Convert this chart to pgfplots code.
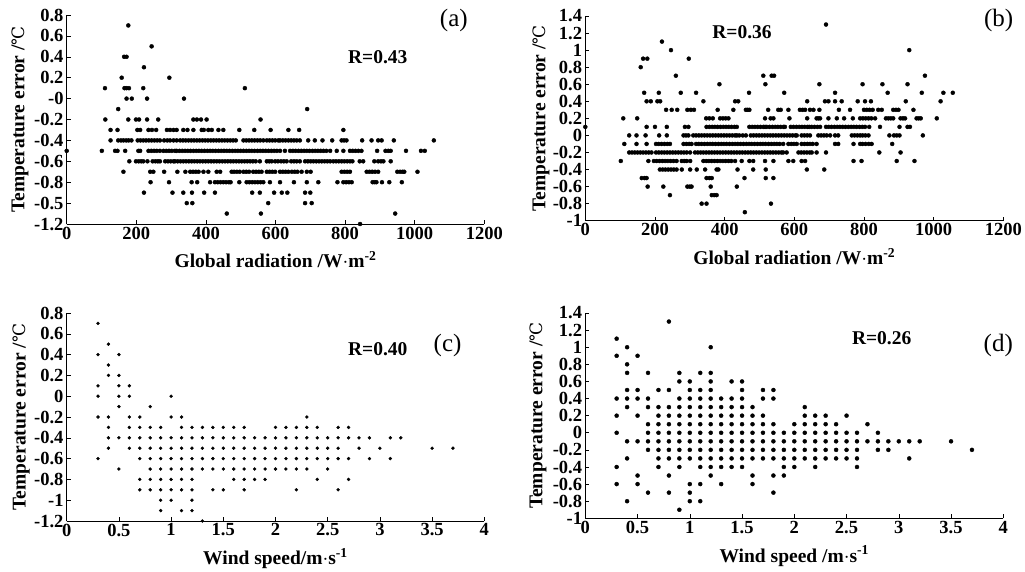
\documentclass[border=0pt]{standalone}
\usepackage{pgfplots}
\pgfplotsset{compat=1.18}
\usepackage{fontspec}
\setmainfont{Liberation Serif}
\newfontfamily\degfont{DejaVu Serif}
\newfontfamily\tickfont{Liberation Serif Bold}
\newcommand{\tfont}{\fontsize{18.5}{20}\selectfont\bfseries}
\newcommand{\lfont}{\fontsize{19.5}{22}\selectfont\bfseries}
\newcommand{\degC}{{\mdseries\degfont\fontsize{17}{20}\selectfont ℃}}
\newcommand{\B}[1]{\textbf{\tickfont\fontsize{18.5}{20}\selectfont #1}}
\pgfplotsset{
 myax/.style={
  scale only axis, clip=false,
  axis lines=left, axis line style={-, line width=0.8pt},
  every outer x axis line/.append style={-}, every outer y axis line/.append style={-},
  tick align=inside, major tick length=4pt, tick style={line width=0.6pt, black},
  xticklabel style={font=\tfont, inner sep=2.5pt},
  yticklabel style={font=\tfont, inner sep=3pt},
  label style={font=\lfont},
 },
 radx/.style={xmin=0, xmax=1200, xtick={0,200,400,600,800,1000,1200},
  xticklabels={\B{0},\B{200},\B{400},\B{600},\B{800},\B{1000},\B{1200}}},
 windx/.style={xmin=0, xmax=4, xtick={0,0.5,1,1.5,2,2.5,3,3.5,4},
  xticklabels={\B{0},\B{0.5},\B{1},\B{1.5},\B{2},\B{2.5},\B{3},\B{3.5},\B{4}}},
 ya/.style={ymin=-1.2, ymax=0.8, ytick={-1.2,-1,-0.8,-0.6,-0.4,-0.2,0,0.2,0.4,0.6,0.8}},
 yb/.style={ymin=-1, ymax=1.4, ytick={-1,-0.8,-0.6,-0.4,-0.2,0,0.2,0.4,0.6,0.8,1,1.2,1.4},
  yticklabels={\B{-1},\B{-0.8},\B{-0.6},\B{-0.4},\B{-0.2},\B{0},\B{0.2},\B{0.4},\B{0.6},\B{0.8},\B{1},\B{1.2},\B{1.4}}},
 pts/.style={only marks, mark=*, mark size=2pt, mark options={fill=black, draw=none}},
}
\begin{document}
\begin{tikzpicture}
\useasboundingbox (0,0) rectangle (1025pt,-571pt);
% ---------------- (a)
\begin{axis}[myax, radx, ya, at={(66.7pt,-224pt)}, anchor=south west, width=417.6pt, height=209pt,
 yticklabels={\B{-1.2},\B{-0.5},\B{-0.8},\B{-0.6},\B{-0.4},\B{-0.2},\B{-0},\B{0.2},\B{0.4},\B{0.6},\B{0.8}},
 xlabel={Global radiation /W$\cdot$m\textsuperscript{-2}},
 ylabel={Temperature error /\degC},
 xlabel style={at={(axis description cs:0.5,-0.21)}, anchor=base},
 ylabel style={at={(axis description cs:-0.112,0.5)}, anchor=center},
]
\addplot[pts] coordinates {
(177,0.7)(244,0.5)(165,0.4)(172,0.4)(222,0.3)(158,0.2)(295,0.2)
(110,0.1)(166,0.1)(172,0.1)(179,0.1)(220,0.1)(512,0.1)
(172,0)(187,0)(231,0)(337,0)
(148,-0.1)(691,-0.1)
(111,-0.2)(177,-0.2)(199,-0.2)(208,-0.2)(231,-0.2)(263,-0.2)(364,-0.2)(374,-0.2)(386,-0.2)(402,-0.2)(557,-0.2)
(126,-0.3)(146,-0.3)(203,-0.3)(211,-0.3)(235,-0.3)(245,-0.3)(257,-0.3)(288,-0.3)(297,-0.3)(307,-0.3)(316,-0.3)(335,-0.3)(347,-0.3)(364,-0.3)(388,-0.3)(394,-0.3)(407,-0.3)(417,-0.3)(436,-0.3)(450,-0.3)(496,-0.3)(539,-0.3)(586,-0.3)(637,-0.3)(668,-0.3)(795,-0.3)
(126,-0.4)(148,-0.4)(156,-0.4)(163,-0.4)(171,-0.4)(178,-0.4)(186,-0.4)(204,-0.4)(212,-0.4)(220,-0.4)(228,-0.4)(236,-0.4)(244,-0.4)(252,-0.4)(260,-0.4)(268,-0.4)(280,-0.4)(289,-0.4)(297,-0.4)(307,-0.4)(316,-0.4)(326,-0.4)(334,-0.4)(342,-0.4)(350,-0.4)(358,-0.4)(366,-0.4)(374,-0.4)(382,-0.4)(390,-0.4)(398,-0.4)(406,-0.4)(414,-0.4)(422,-0.4)(430,-0.4)(438,-0.4)(446,-0.4)(454,-0.4)(462,-0.4)(470,-0.4)(478,-0.4)(486,-0.4)(508,-0.4)(516,-0.4)(524,-0.4)(532,-0.4)(540,-0.4)(548,-0.4)(556,-0.4)(565,-0.4)(575,-0.4)(583,-0.4)(591,-0.4)(599,-0.4)(608,-0.4)(613,-0.4)(621,-0.4)(629,-0.4)(637,-0.4)(645,-0.4)(653,-0.4)(661,-0.4)(670,-0.4)(694,-0.4)(713,-0.4)(735,-0.4)(763,-0.4)(790,-0.4)(797,-0.4)(804,-0.4)(849,-0.4)(876,-0.4)(895,-0.4)(905,-0.4)(940,-0.4)(1055,-0.4)
(0,-0.5)(101,-0.5)(139,-0.5)(146,-0.5)(168,-0.5)(206,-0.5)(211,-0.5)(235,-0.5)(243,-0.5)(251,-0.5)(259,-0.5)(268,-0.5)(278,-0.5)(286,-0.5)(294,-0.5)(302,-0.5)(311,-0.5)(316,-0.5)(324,-0.5)(332,-0.5)(340,-0.5)(348,-0.5)(356,-0.5)(364,-0.5)(372,-0.5)(380,-0.5)(388,-0.5)(396,-0.5)(404,-0.5)(412,-0.5)(420,-0.5)(428,-0.5)(436,-0.5)(444,-0.5)(452,-0.5)(460,-0.5)(468,-0.5)(476,-0.5)(484,-0.5)(492,-0.5)(500,-0.5)(508,-0.5)(516,-0.5)(524,-0.5)(532,-0.5)(540,-0.5)(548,-0.5)(556,-0.5)(564,-0.5)(572,-0.5)(580,-0.5)(588,-0.5)(596,-0.5)(604,-0.5)(613,-0.5)(627,-0.5)(642,-0.5)(650,-0.5)(658,-0.5)(666,-0.5)(674,-0.5)(682,-0.5)(690,-0.5)(698,-0.5)(706,-0.5)(714,-0.5)(722,-0.5)(730,-0.5)(738,-0.5)(746,-0.5)(757,-0.5)(776,-0.5)(795,-0.5)(814,-0.5)(822,-0.5)(830,-0.5)(838,-0.5)(847,-0.5)(892,-0.5)(916,-0.5)(924,-0.5)(931,-0.5)(975,-0.5)(1018,-0.5)(1029,-0.5)
(180,-0.6)(199,-0.6)(207,-0.6)(214,-0.6)(220,-0.6)(232,-0.6)(247,-0.6)(255,-0.6)(262,-0.6)(268,-0.6)(283,-0.6)(291,-0.6)(299,-0.6)(307,-0.6)(311,-0.6)(319,-0.6)(327,-0.6)(335,-0.6)(343,-0.6)(351,-0.6)(359,-0.6)(367,-0.6)(375,-0.6)(383,-0.6)(391,-0.6)(399,-0.6)(407,-0.6)(415,-0.6)(423,-0.6)(431,-0.6)(439,-0.6)(447,-0.6)(455,-0.6)(463,-0.6)(471,-0.6)(479,-0.6)(487,-0.6)(495,-0.6)(503,-0.6)(511,-0.6)(519,-0.6)(527,-0.6)(535,-0.6)(543,-0.6)(555,-0.6)(575,-0.6)(582,-0.6)(589,-0.6)(599,-0.6)(607,-0.6)(616,-0.6)(624,-0.6)(632,-0.6)(645,-0.6)(653,-0.6)(661,-0.6)(670,-0.6)(685,-0.6)(693,-0.6)(701,-0.6)(709,-0.6)(717,-0.6)(725,-0.6)(733,-0.6)(741,-0.6)(749,-0.6)(757,-0.6)(766,-0.6)(774,-0.6)(782,-0.6)(790,-0.6)(798,-0.6)(806,-0.6)(814,-0.6)(821,-0.6)(842,-0.6)(852,-0.6)(884,-0.6)(895,-0.6)(903,-0.6)(910,-0.6)(931,-0.6)
(163,-0.7)(240,-0.7)(249,-0.7)(280,-0.7)(318,-0.7)(341,-0.7)(355,-0.7)(363,-0.7)(371,-0.7)(379,-0.7)(393,-0.7)(407,-0.7)(431,-0.7)(441,-0.7)(474,-0.7)(481,-0.7)(489,-0.7)(497,-0.7)(508,-0.7)(516,-0.7)(524,-0.7)(536,-0.7)(544,-0.7)(552,-0.7)(560,-0.7)(575,-0.7)(583,-0.7)(591,-0.7)(599,-0.7)(613,-0.7)(621,-0.7)(629,-0.7)(637,-0.7)(647,-0.7)(655,-0.7)(663,-0.7)(675,-0.7)(690,-0.7)(701,-0.7)(790,-0.7)(798,-0.7)(806,-0.7)(814,-0.7)(862,-0.7)(870,-0.7)(878,-0.7)(886,-0.7)(895,-0.7)(950,-0.7)(958,-0.7)(965,-0.7)(970,-0.7)(1008,-0.7)
(241,-0.8)(294,-0.8)(359,-0.8)(375,-0.8)(412,-0.8)(426,-0.8)(434,-0.8)(442,-0.8)(450,-0.8)(458,-0.8)(466,-0.8)(471,-0.8)(496,-0.8)(517,-0.8)(525,-0.8)(533,-0.8)(541,-0.8)(549,-0.8)(557,-0.8)(565,-0.8)(584,-0.8)(613,-0.8)(653,-0.8)(690,-0.8)(723,-0.8)(778,-0.8)(795,-0.8)(803,-0.8)(811,-0.8)(819,-0.8)(879,-0.8)(885,-0.8)(890,-0.8)(906,-0.8)(927,-0.8)(963,-0.8)
(222,-0.9)(304,-0.9)(335,-0.9)(360,-0.9)(395,-0.9)(426,-0.9)(533,-0.9)(555,-0.9)(596,-0.9)(618,-0.9)(634,-0.9)(685,-0.9)(700,-0.9)
(345,-1.0)(361,-1.0)(579,-1.0)(685,-1.0)(704,-1.0)
(460,-1.1)(558,-1.1)(944,-1.1)(843,-1.2)
};
\node[font=\lfont] at (axis description cs:0.745,0.80) {R=0.43};
\node[font=\fontsize{25}{28}\selectfont] at (axis description cs:0.927,0.976) {(a)};
\end{axis}
% ---------------- (b)
\begin{axis}[myax, radx, yb, at={(585.3pt,-220.7pt)}, anchor=south west, width=418pt, height=204.7pt,
 xlabel={Global radiation /W$\cdot$m\textsuperscript{-2}},
 ylabel={Temperature error /\degC},
 xlabel style={at={(axis description cs:0.5,-0.216)}, anchor=base},
 ylabel style={at={(axis description cs:-0.106,0.5)}, anchor=center},
]
\addplot[pts] coordinates {
(691,1.3)(220,1.1)(246,1.0)(930,1.0)(166,0.9)(178,0.9)(297,0.9)(159,0.8)
(260,0.7)(511,0.7)(535,0.7)(542,0.7)(975,0.7)
(385,0.6)(517,0.6)(672,0.6)(796,0.6)(853,0.6)(925,0.6)
(169,0.5)(211,0.5)(274,0.5)(318,0.5)(470,0.5)(571,0.5)(717,0.5)(868,0.5)(966,0.5)(1028,0.5)(1055,0.5)
(176,0.4)(188,0.4)(207,0.4)(215,0.4)(339,0.4)(430,0.4)(439,0.4)(637,0.4)(688,0.4)(698,0.4)(717,0.4)(736,0.4)(782,0.4)(803,0.4)(820,0.4)(920,0.4)(1020,0.4)
(232,0.3)(248,0.3)(264,0.3)(293,0.3)(303,0.3)(312,0.3)(380,0.3)(425,0.3)(461,0.3)(466,0.3)(471,0.3)(525,0.3)(554,0.3)(561,0.3)(583,0.3)(616,0.3)(624,0.3)(631,0.3)(645,0.3)(655,0.3)(672,0.3)(728,0.3)(760,0.3)(800,0.3)(808,0.3)(816,0.3)(825,0.3)(841,0.3)(851,0.3)(884,0.3)(892,0.3)(899,0.3)(942,0.3)
(109,0.2)(149,0.2)(347,0.2)(356,0.2)(366,0.2)(387,0.2)(395,0.2)(403,0.2)(411,0.2)(516,0.2)(532,0.2)(540,0.2)(586,0.2)(637,0.2)(664,0.2)(669,0.2)(674,0.2)(698,0.2)(722,0.2)(743,0.2)(768,0.2)(789,0.2)(797,0.2)(805,0.2)(813,0.2)(821,0.2)(832,0.2)(863,0.2)(870,0.2)(877,0.2)(884,0.2)(905,0.2)(912,0.2)(918,0.2)(951,0.2)(957,0.2)(963,0.2)(1009,0.2)
(0,0.1)(176,0.1)(200,0.1)(234,0.1)(286,0.1)(296,0.1)(348,0.1)(356,0.1)(364,0.1)(372,0.1)(380,0.1)(388,0.1)(396,0.1)(404,0.1)(412,0.1)(420,0.1)(428,0.1)(435,0.1)(471,0.1)(479,0.1)(487,0.1)(495,0.1)(503,0.1)(511,0.1)(516,0.1)(521,0.1)(529,0.1)(537,0.1)(545,0.1)(553,0.1)(561,0.1)(569,0.1)(573,0.1)(590,0.1)(598,0.1)(606,0.1)(614,0.1)(622,0.1)(630,0.1)(638,0.1)(643,0.1)(650,0.1)(658,0.1)(666,0.1)(674,0.1)(691,0.1)(699,0.1)(707,0.1)(715,0.1)(723,0.1)(731,0.1)(739,0.1)(747,0.1)(755,0.1)(763,0.1)(771,0.1)(779,0.1)(787,0.1)(795,0.1)(803,0.1)(815,0.1)(846,0.1)(902,0.1)(925,0.1)(932,0.1)
(126,0)(147,0)(173,0)(212,0)(234,0)(282,0)(289,0)(296,0)(310,0)(318,0)(326,0)(334,0)(342,0)(350,0)(358,0)(366,0)(374,0)(382,0)(390,0)(398,0)(406,0)(414,0)(422,0)(430,0)(435,0)(442,0)(452,0)(461,0)(475,0)(483,0)(491,0)(499,0)(507,0)(515,0)(523,0)(531,0)(539,0)(547,0)(555,0)(563,0)(571,0)(579,0)(587,0)(595,0)(603,0)(607,0)(621,0)(629,0)(637,0)(645,0)(669,0)(677,0)(685,0)(693,0)(703,0)(717,0)(726,0)(765,0)(773,0)(781,0)(789,0)(796,0)(804,0)(813,0)(873,0)(886,0)(894,0)(902,0)(969,0)
(112,-0.1)(147,-0.1)(176,-0.1)(203,-0.1)(211,-0.1)(219,-0.1)(227,-0.1)(235,-0.1)(243,-0.1)(282,-0.1)(290,-0.1)(298,-0.1)(305,-0.1)(318,-0.1)(326,-0.1)(334,-0.1)(342,-0.1)(350,-0.1)(358,-0.1)(366,-0.1)(374,-0.1)(382,-0.1)(390,-0.1)(398,-0.1)(406,-0.1)(414,-0.1)(422,-0.1)(430,-0.1)(438,-0.1)(446,-0.1)(454,-0.1)(462,-0.1)(470,-0.1)(478,-0.1)(486,-0.1)(494,-0.1)(502,-0.1)(510,-0.1)(518,-0.1)(526,-0.1)(534,-0.1)(542,-0.1)(550,-0.1)(558,-0.1)(568,-0.1)(583,-0.1)(591,-0.1)(599,-0.1)(607,-0.1)(621,-0.1)(629,-0.1)(637,-0.1)(645,-0.1)(653,-0.1)(664,-0.1)(717,-0.1)(726,-0.1)(770,-0.1)(789,-0.1)(796,-0.1)(805,-0.1)(814,-0.1)(822,-0.1)(881,-0.1)
(126,-0.2)(134,-0.2)(142,-0.2)(150,-0.2)(158,-0.2)(166,-0.2)(174,-0.2)(182,-0.2)(190,-0.2)(203,-0.2)(211,-0.2)(219,-0.2)(227,-0.2)(235,-0.2)(243,-0.2)(251,-0.2)(259,-0.2)(267,-0.2)(275,-0.2)(283,-0.2)(291,-0.2)(301,-0.2)(315,-0.2)(323,-0.2)(331,-0.2)(339,-0.2)(347,-0.2)(355,-0.2)(363,-0.2)(371,-0.2)(379,-0.2)(387,-0.2)(395,-0.2)(403,-0.2)(411,-0.2)(419,-0.2)(427,-0.2)(435,-0.2)(443,-0.2)(451,-0.2)(459,-0.2)(467,-0.2)(475,-0.2)(483,-0.2)(491,-0.2)(499,-0.2)(507,-0.2)(515,-0.2)(523,-0.2)(531,-0.2)(539,-0.2)(547,-0.2)(555,-0.2)(563,-0.2)(568,-0.2)(578,-0.2)(612,-0.2)(620,-0.2)(628,-0.2)(636,-0.2)(644,-0.2)(650,-0.2)(664,-0.2)(691,-0.2)(844,-0.2)(905,-0.2)
(102,-0.3)(181,-0.3)(197,-0.3)(205,-0.3)(213,-0.3)(221,-0.3)(229,-0.3)(237,-0.3)(245,-0.3)(253,-0.3)(262,-0.3)(277,-0.3)(284,-0.3)(291,-0.3)(301,-0.3)(339,-0.3)(347,-0.3)(355,-0.3)(363,-0.3)(371,-0.3)(379,-0.3)(387,-0.3)(395,-0.3)(403,-0.3)(411,-0.3)(419,-0.3)(430,-0.3)(449,-0.3)(471,-0.3)(482,-0.3)(516,-0.3)(540,-0.3)(583,-0.3)(597,-0.3)(621,-0.3)(631,-0.3)(770,-0.3)(793,-0.3)(894,-0.3)(945,-0.3)
(214,-0.4)(222,-0.4)(230,-0.4)(238,-0.4)(246,-0.4)(254,-0.4)(262,-0.4)(277,-0.4)(301,-0.4)(320,-0.4)(344,-0.4)(377,-0.4)(382,-0.4)(437,-0.4)(482,-0.4)(518,-0.4)(636,-0.4)(686,-0.4)
(162,-0.5)(170,-0.5)(176,-0.5)(348,-0.5)(356,-0.5)(363,-0.5)(457,-0.5)(518,-0.5)(540,-0.5)
(179,-0.6)(224,-0.6)(293,-0.6)(300,-0.6)(305,-0.6)(360,-0.6)(435,-0.6)
(243,-0.7)(363,-0.7)(370,-0.7)(377,-0.7)
(334,-0.8)(348,-0.8)(533,-0.8)(458,-0.9)
};
\node[font=\lfont] at (axis description cs:0.375,0.919) {R=0.36};
\node[font=\fontsize{25}{28}\selectfont] at (axis description cs:0.989,0.98) {(b)};
\end{axis}
% ---------------- (c)
\begin{axis}[myax, windx, ya, at={(66.7pt,-521pt)}, anchor=south west, width=417.6pt, height=208pt,
 yticklabels={\B{-1.2},\B{-1},\B{-0.8},\B{-0.6},\B{-0.4},\B{-0.2},\B{0},\B{0.2},\B{0.4},\B{0.6},\B{0.8}},
 xlabel={Wind speed/m$\cdot$s\textsuperscript{-1}},
 ylabel={Temperature error /\degC},
 xlabel style={at={(axis description cs:0.5,-0.21)}, anchor=base},
 ylabel style={at={(axis description cs:-0.109,0.5)}, anchor=center},
]
\addplot[pts, mark size=1.5pt] coordinates {
(0.3,0.7)(0.4,0.5)(0.3,0.4)(0.5,0.4)(0.4,0.3)(0.4,0.2)(0.5,0.2)
(0.3,0.1)(0.5,0.1)(0.6,0.1)(0.3,0)(0.5,0)(0.6,0)(1.0,0)
(0.5,-0.1)(0.8,-0.1)
(0.3,-0.2)(0.4,-0.2)(0.6,-0.2)(0.7,-0.2)(1.0,-0.2)(1.1,-0.2)(2.3,-0.2)
(0.4,-0.3)(0.6,-0.3)(0.7,-0.3)(0.8,-0.3)(0.9,-0.3)(1.1,-0.3)(1.2,-0.3)(1.3,-0.3)(1.4,-0.3)(1.5,-0.3)(1.6,-0.3)(1.7,-0.3)(2.0,-0.3)(2.1,-0.3)(2.2,-0.3)(2.3,-0.3)(2.4,-0.3)(2.6,-0.3)(2.7,-0.3)
(0.4,-0.4)(0.5,-0.4)(0.6,-0.4)(0.7,-0.4)(0.8,-0.4)(0.9,-0.4)(1.0,-0.4)(1.1,-0.4)(1.2,-0.4)(1.3,-0.4)(1.4,-0.4)(1.5,-0.4)(1.6,-0.4)(1.7,-0.4)(1.8,-0.4)(1.9,-0.4)(2.0,-0.4)(2.1,-0.4)(2.2,-0.4)(2.3,-0.4)(2.4,-0.4)(2.5,-0.4)(2.6,-0.4)(2.7,-0.4)(2.8,-0.4)(2.9,-0.4)(3.1,-0.4)(3.2,-0.4)
(0.4,-0.5)(0.6,-0.5)(0.7,-0.5)(0.8,-0.5)(0.9,-0.5)(1.0,-0.5)(1.1,-0.5)(1.2,-0.5)(1.3,-0.5)(1.4,-0.5)(1.5,-0.5)(1.6,-0.5)(1.7,-0.5)(1.8,-0.5)(1.9,-0.5)(2.0,-0.5)(2.1,-0.5)(2.2,-0.5)(2.3,-0.5)(2.4,-0.5)(2.5,-0.5)(2.6,-0.5)(2.8,-0.5)(3.0,-0.5)(3.5,-0.5)(3.7,-0.5)
(0.3,-0.6)(0.7,-0.6)(0.8,-0.6)(0.9,-0.6)(1.0,-0.6)(1.1,-0.6)(1.2,-0.6)(1.3,-0.6)(1.4,-0.6)(1.5,-0.6)(1.6,-0.6)(1.7,-0.6)(1.8,-0.6)(1.9,-0.6)(2.0,-0.6)(2.1,-0.6)(2.2,-0.6)(2.3,-0.6)(2.4,-0.6)(2.5,-0.6)(2.6,-0.6)(2.7,-0.6)(2.9,-0.6)(3.1,-0.6)
(0.5,-0.7)(0.8,-0.7)(0.9,-0.7)(1.0,-0.7)(1.1,-0.7)(1.2,-0.7)(1.3,-0.7)(1.4,-0.7)(1.5,-0.7)(1.6,-0.7)(1.7,-0.7)(1.8,-0.7)(1.9,-0.7)(2.0,-0.7)(2.1,-0.7)(2.2,-0.7)(2.3,-0.7)(2.5,-0.7)
(0.7,-0.8)(0.8,-0.8)(0.9,-0.8)(1.0,-0.8)(1.1,-0.8)(1.2,-0.8)(1.6,-0.8)(1.7,-0.8)(1.8,-0.8)(1.9,-0.8)(2.4,-0.8)(2.7,-0.8)
(0.7,-0.9)(0.8,-0.9)(0.9,-0.9)(1.0,-0.9)(1.1,-0.9)(1.2,-0.9)(1.4,-0.9)(1.5,-0.9)(1.7,-0.9)(2.2,-0.9)(2.6,-0.9)
(0.9,-1.0)(1.0,-1.0)(1.2,-1.0)(0.9,-1.1)(1.1,-1.1)(1.2,-1.1)(1.3,-1.2)
};
\node[font=\lfont] at (axis description cs:0.745,0.827) {R=0.40};
\node[font=\fontsize{25}{28}\selectfont] at (axis description cs:0.912,0.846) {(c)};
\end{axis}
% ---------------- (d)
\begin{axis}[myax, windx, yb, at={(585.3pt,-518.3pt)}, anchor=south west, width=418pt, height=205.3pt,
 xlabel={Wind speed /m$\cdot$s\textsuperscript{-1}},
 ylabel={Temperature error /\degC},
 xlabel style={at={(axis description cs:0.5,-0.213)}, anchor=base},
 ylabel style={at={(axis description cs:-0.113,0.5)}, anchor=center},
]
\addplot[pts] coordinates {
(0.8,1.3)(0.3,1.1)(0.4,1.0)(1.2,1.0)(0.3,0.9)(0.5,0.9)(0.4,0.8)
(0.4,0.7)(0.6,0.7)(0.9,0.7)(1.1,0.7)(1.2,0.7)
(0.9,0.6)(1.0,0.6)(1.2,0.6)(1.4,0.6)(1.5,0.6)
(0.4,0.5)(0.5,0.5)(0.7,0.5)(0.8,0.5)(1.0,0.5)(1.1,0.5)(1.2,0.5)(1.5,0.5)(1.7,0.5)(1.8,0.5)
(0.3,0.4)(0.4,0.4)(0.5,0.4)(0.6,0.4)(0.9,0.4)(1.0,0.4)(1.1,0.4)(1.2,0.4)(1.3,0.4)(1.4,0.4)(1.5,0.4)(1.7,0.4)(1.8,0.4)
(0.4,0.3)(0.6,0.3)(0.7,0.3)(0.8,0.3)(0.9,0.3)(1.0,0.3)(1.1,0.3)(1.2,0.3)(1.3,0.3)(1.4,0.3)(1.5,0.3)(1.6,0.3)(2.1,0.3)
(0.3,0.2)(0.5,0.2)(0.7,0.2)(0.8,0.2)(0.9,0.2)(1.0,0.2)(1.1,0.2)(1.2,0.2)(1.3,0.2)(1.4,0.2)(1.5,0.2)(1.6,0.2)(1.7,0.2)(2.1,0.2)(2.2,0.2)(2.3,0.2)(2.5,0.2)
(0.6,0.1)(0.7,0.1)(0.8,0.1)(0.9,0.1)(1.0,0.1)(1.1,0.1)(1.2,0.1)(1.3,0.1)(1.4,0.1)(1.5,0.1)(1.6,0.1)(1.7,0.1)(1.8,0.1)(2.0,0.1)(2.1,0.1)(2.2,0.1)(2.3,0.1)(2.4,0.1)(2.7,0.1)
(0.3,0)(0.6,0)(0.7,0)(0.8,0)(0.9,0)(1.0,0)(1.1,0)(1.2,0)(1.3,0)(1.4,0)(1.5,0)(1.6,0)(1.7,0)(1.8,0)(1.9,0)(2.0,0)(2.1,0)(2.2,0)(2.3,0)(2.4,0)(2.5,0)(2.6,0)(2.8,0)
(0.4,-0.1)(0.5,-0.1)(0.6,-0.1)(0.7,-0.1)(0.8,-0.1)(0.9,-0.1)(1.0,-0.1)(1.1,-0.1)(1.2,-0.1)(1.3,-0.1)(1.4,-0.1)(1.5,-0.1)(1.6,-0.1)(1.7,-0.1)(1.8,-0.1)(1.9,-0.1)(2.0,-0.1)(2.1,-0.1)(2.2,-0.1)(2.3,-0.1)(2.4,-0.1)(2.5,-0.1)(2.6,-0.1)(2.7,-0.1)(2.8,-0.1)(2.9,-0.1)(3.0,-0.1)(3.1,-0.1)(3.2,-0.1)(3.5,-0.1)
(0.6,-0.2)(0.7,-0.2)(0.8,-0.2)(0.9,-0.2)(1.0,-0.2)(1.1,-0.2)(1.2,-0.2)(1.3,-0.2)(1.4,-0.2)(1.5,-0.2)(1.6,-0.2)(1.7,-0.2)(1.8,-0.2)(1.9,-0.2)(2.0,-0.2)(2.1,-0.2)(2.2,-0.2)(2.3,-0.2)(2.4,-0.2)(2.5,-0.2)(2.6,-0.2)(2.8,-0.2)(2.9,-0.2)(3.7,-0.2)
(0.4,-0.3)(0.7,-0.3)(0.8,-0.3)(0.9,-0.3)(1.0,-0.3)(1.1,-0.3)(1.2,-0.3)(1.3,-0.3)(1.4,-0.3)(1.5,-0.3)(1.6,-0.3)(1.7,-0.3)(1.8,-0.3)(1.9,-0.3)(2.0,-0.3)(2.1,-0.3)(2.2,-0.3)(2.3,-0.3)(2.4,-0.3)(2.5,-0.3)(2.6,-0.3)(3.1,-0.3)
(0.3,-0.4)(0.7,-0.4)(0.9,-0.4)(1.1,-0.4)(1.2,-0.4)(1.3,-0.4)(1.4,-0.4)(1.5,-0.4)(1.9,-0.4)(2.0,-0.4)(2.2,-0.4)(2.6,-0.4)
(0.5,-0.5)(0.8,-0.5)(1.2,-0.5)(1.6,-0.5)(1.8,-0.5)(1.9,-0.5)
(0.3,-0.6)(0.5,-0.6)(1.0,-0.6)(1.1,-0.6)(1.3,-0.6)(1.6,-0.6)
(0.6,-0.7)(0.8,-0.7)(1.0,-0.7)(1.8,-0.7)
(0.4,-0.8)(1.0,-0.8)(1.1,-0.8)(0.9,-0.9)
};
\node[font=\lfont] at (axis description cs:0.709,0.877) {R=0.26};
\node[font=\fontsize{25}{28}\selectfont] at (axis description cs:0.988,0.844) {(d)};
\end{axis}
\end{tikzpicture}
\end{document}
